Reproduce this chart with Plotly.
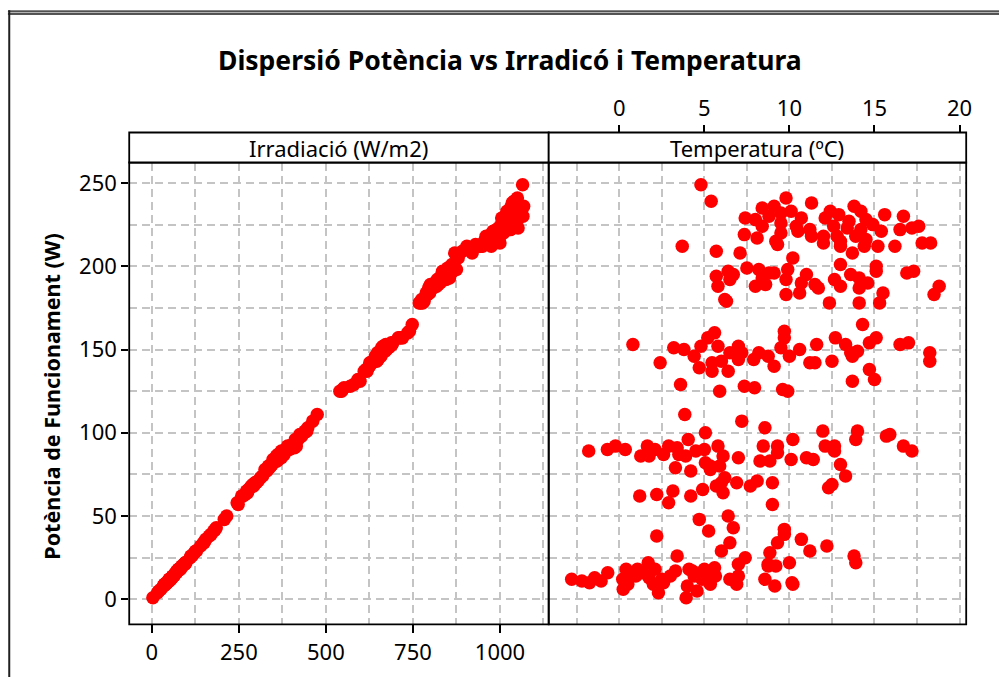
import plotly.graph_objects as go

# Observations: module temperature (ºC), output power (W), irradiance (W/m2)
temperatura = [
    4.8, 5.4, 9.8, 11.3, 8.4, 9.1, 10.1, 12.4, 13.8, 14.2, 15.6, 16.7,
    12.9, 7.4, 8.0, 8.8, 9.5, 10.7, 12.1, 13.5, 14.5, 14.9, 8.4, 9.5,
    10.4, 11.2, 12.6, 13.4, 14.2, 15.4, 16.5, 17.2, 17.6, 7.35, 8.1, 9.5,
    10.5, 11.3, 12.0, 12.0, 12.8, 13.0, 13.0, 13.9, 14.5, 14.4, 15.2, 16.2,
    17.8, 18.3, 9.3, 9.2, 3.7, 5.7, 7.1, 10.2, 13.7, 7.5, 8.2, 8.8,
    9.1, 9.9, 6.4, 6.7, 5.7, 6.5, 5.8, 8.0, 8.6, 8.4, 9.8, 9.8,
    11.0, 10.7, 10.6, 11.5, 11.7, 12.65, 13.0, 13.0, 13.6, 14.1, 14.1, 14.6,
    15.1, 15.1, 16.9, 17.3, 15.5, 15.3, 14.1, 12.35, 6.2, 6.3, 18.8, 18.5,
    14.3, 9.7, 9.7, 5.6, 5.2, 0.8, 3.2, 3.8, 4.8, 5.8, 4.4, 5.45,
    6.0, 6.5, 7.0, 7.2, 7.0, 6.4, 5.45, 4.7, 2.4, 7.9, 8.2, 8.75,
    9.1, 9.5, 10.0, 10.6, 11.6, 11.2, 11.5, 12.5, 12.7, 13.3, 13.6, 14.0,
    13.7, 14.7, 15.1, 14.7, 15.0, 13.7, 16.5, 17.0, 18.25, 18.25, 3.6, 5.9,
    7.35, 7.95, 9.6, 9.9,
    3.85, 7.2, 8.56, 11.96, 14.0, 13.9, 15.7, 15.9, 5.06, 4.05, 10.2,
    -1.8, -0.7, -0.23, 0.35, 1.65, 2.1, 2.9, 3.4, 4.5, 5.0, 5.8, 8.46,
    9.3, 9.3, 12.1, 12.65, 12.65, 16.7, 17.2, 1.26, 1.75, 2.6, 3.5, 3.9,
    6.1, 7.0, 8.27, 8.85, 10.1, 11.0, 11.4, 13.0, 5.06, 3.3, 4.2, 5.35, 5.9,
    5.35, 6.2, 6.9, 5.7, 6.1, 6.0, 7.7, 8.1, 9.0, 9.0, 13.3, 12.3, 12.5,
    1.2, 2.2, 3.15, 2.9, 4.2, 4.9,
    4.7, 6.4, 5.25, 6.7, 2.2, 6.5, 6.0, 3.4, 7.4, 7.0, 9.7, 9.7,
    9.3, 8.85, 8.75, 9.2, 10.0, 10.7, 11.2, 12.2, 13.8, 13.9,
    -2.8, -2.2, -1.75, -1.45, -1.07, -0.68, 0.4, 0.2, 0.5, 0.23, 1.07, 0.97,
    1.7, 2.1, 1.75, 2.5, 2.6, 2.3,
    3.3, 4.1, 4.3, 5.0, 5.6, 4.86, 5.35, 4.0, 4.57, 3.93, 6.5, 7.0,
    6.9, 8.56, 9.14, 8.75, 10.15, 10.2, 5.65,
    0.6, 1.4, 2.0, 3.0, 4.4, 5.2,
]

potencia = [
    249, 239, 241, 238, 235, 236, 233, 233, 236, 233, 231, 230,
    231, 229, 228, 230, 232, 229, 229, 227, 228, 225, 224, 226,
    224, 222, 224, 223, 222, 221, 222, 223, 224, 219, 217, 220,
    221, 218, 218, 214, 218, 215, 212, 218, 216, 212, 212, 212,
    214, 214, 213, 215, 212, 209, 208, 205, 208, 199, 198, 196,
    196, 198, 197, 195, 194, 192, 188, 188, 189, 193, 192, 183,
    195, 190, 184, 189, 187, 192, 201, 188, 195, 193, 187, 190,
    200, 197, 196, 197, 184, 178, 178, 178, 180, 179, 188, 183,
    165, 161, 157, 160, 157, 153, 151, 150, 152, 152, 146, 142,
    143, 148, 152, 148, 144, 137, 137, 139, 142, 144, 148, 146,
    140, 151, 146, 150, 153, 142, 142, 143, 157, 153, 148, 149,
    146, 154, 157, 138, 132, 131, 153, 154, 148, 143, 129, 125,
    128, 127, 126, 125,
    111, 107, 103, 101, 101, 96, 98, 99, 100, 96, 96,
    89, 90, 92, 90, 92, 90, 92, 91, 89, 90, 92, 92,
    92, 88, 92, 92, 89, 92, 89, 86, 86, 87, 87, 86,
    86, 85, 83, 83, 84, 85, 84, 81, 82, 79, 77, 80, 80,
    78, 73, 70, 68, 64, 70, 68, 71, 70, 57, 74, 67, 69,
    62, 63, 65, 58, 62, 66,
    48, 50, 41, 43, 38, 34, 29, 26, 25, 21, 42, 39,
    34, 28, 21, 20, 22, 36, 29, 32, 26, 22,
    12, 11, 10, 13, 11, 16, 18, 12, 9, 6, 18, 14,
    22, 18, 13, 12, 10, 4,
    17, 18, 17, 18, 19, 12, 9, 8, 5, 1, 12, 14,
    9, 12, 8, 20, 10, 9, 14,
    15, 16, 9, 14, 14, 16,
]

irradiacio = [
    1065, 1040, 1050, 1035, 1030, 1058, 1020, 1062, 1068, 1025, 1055, 1015,
    1040, 1010, 1035, 1066, 1060, 1005, 1030, 1022, 1050, 1012, 1000, 1038,
    1020, 990, 1045, 1008, 1030, 985, 1015, 1052, 1028, 975, 995, 1010,
    980, 960, 1000, 970, 985, 955, 945, 965, 990, 940, 975, 950,
    960, 1000, 930, 962, 905, 892, 920, 880, 870, 850, 865, 842,
    858, 875, 835, 848, 830, 820, 805, 815, 800, 838, 826, 790,
    852, 812, 798, 822, 808, 845, 862, 818, 835, 855, 795, 828,
    868, 846, 860, 840, 788, 772, 778, 768, 775, 782, 810, 792,
    748, 740, 720, 735, 712, 672, 660, 668, 676, 664, 645, 630,
    638, 655, 685, 662, 640, 610, 618, 622, 628, 650, 648, 658,
    625, 680, 642, 674, 690, 634, 626, 636, 708, 684, 652, 670,
    644, 692, 716, 615, 592, 598, 682, 688, 660, 646, 580, 545,
    570, 552, 548, 540,
    475, 462, 448, 440, 445, 418, 430, 425, 438, 412, 420,
    380, 392, 400, 386, 405, 395, 398, 410, 372, 385, 415, 402,
    390, 378, 408, 396, 382, 412, 376, 368, 374, 362, 380, 370,
    358, 365, 352, 360, 355, 372, 348, 345, 350, 338, 330, 342, 335,
    325, 312, 300, 292, 275, 296, 286, 305, 298, 248, 318, 282, 290,
    262, 268, 272, 245, 258, 278,
    208, 215, 178, 185, 165, 148, 128, 115, 110, 92, 182, 170,
    150, 122, 95, 88, 98, 155, 126, 140, 112, 96,
    52, 48, 44, 58, 50, 70, 78, 54, 40, 26, 80, 62,
    96, 76, 56, 50, 42, 16,
    74, 82, 72, 78, 84, 52, 38, 34, 20, 3, 55, 60,
    36, 50, 33, 86, 44, 37, 62,
    66, 68, 39, 61, 63, 71,
]

assert len(temperatura) == len(potencia) == len(irradiacio)

titol = "Dispersió Potència vs Irradicó i Temperatura"
etiqueta_y = "Potència de Funcionament (W)"
panells = ["Irradiació (W/m2)", "Temperatura (ºC)"]

W, H = 1005, 677
FONT = "Noto Sans"
RED = "#ff0000"
GRID = "#c4c4c4"
DASH = "8px,5px"


def px(x):
    return x / W


def py(y):
    return 1 - y / H


# panel geometry (pixels)
left_x0, mid_x, right_x1 = 130, 552, 972
plot_top, plot_bot = 162.5, 624.3
strip_top = 132.5

fig = go.Figure()
fig.add_trace(go.Scatter(
    x=irradiacio, y=potencia, mode="markers", xaxis="x", yaxis="y",
    marker=dict(color=RED, size=13.5, line=dict(width=0)), showlegend=False,
))
fig.add_trace(go.Scatter(
    x=temperatura, y=potencia, mode="markers", xaxis="x2", yaxis="y2",
    marker=dict(color=RED, size=13.5, line=dict(width=0)), showlegend=False,
))

tickfont = dict(family=FONT, size=22, color="black")
grid_common = dict(showgrid=True, gridcolor=GRID, gridwidth=1.5, griddash=DASH,
                   zeroline=False, showline=False)

fig.update_layout(
    width=W, height=H,
    margin=dict(l=0, r=0, t=0, b=0),
    paper_bgcolor="white", plot_bgcolor="white",
    xaxis=dict(
        domain=[px(left_x0), px(mid_x)], range=[-65, 1140], anchor="y",
        tick0=0, dtick=250, ticks="outside", ticklen=8, tickwidth=1.5,
        tickcolor="black", tickfont=tickfont,
        minor=dict(tick0=0, dtick=125, showgrid=True, gridcolor=GRID,
                   gridwidth=1.5, griddash=DASH),
        **grid_common,
    ),
    yaxis=dict(
        domain=[py(plot_bot), py(plot_top)], range=[-15, 262.3], anchor="x",
        tick0=0, dtick=50, ticks="outside", ticklen=7, tickwidth=1.5,
        tickcolor="black", tickfont=tickfont,
        minor=dict(tick0=0, dtick=25, showgrid=True, gridcolor=GRID,
                   gridwidth=1.5, griddash=DASH),
        **grid_common,
    ),
    xaxis2=dict(
        domain=[px(mid_x), px(right_x1)], range=[-4.15, 20.39],
        anchor="free", position=py(strip_top), side="top",
        tick0=0, dtick=5, ticks="outside", ticklen=8, tickwidth=1.5,
        tickcolor="black", tickfont=tickfont,
        minor=dict(tick0=0, dtick=2.5, showgrid=True, gridcolor=GRID,
                   gridwidth=1.5, griddash=DASH),
        **grid_common,
    ),
    yaxis2=dict(
        domain=[py(plot_bot), py(plot_top)], range=[-15, 262.3], anchor="x2",
        tick0=0, dtick=50, showticklabels=False, ticks="",
        minor=dict(tick0=0, dtick=25, showgrid=True, gridcolor=GRID,
                   gridwidth=1.5, griddash=DASH),
        **grid_common,
    ),
)

shapes = []
# panel frames and strip boxes
for x0, x1 in [(left_x0, mid_x), (mid_x, right_x1)]:
    shapes.append(dict(type="rect", xref="paper", yref="paper",
                       x0=px(x0), x1=px(x1), y0=py(plot_bot), y1=py(plot_top),
                       line=dict(color="black", width=1.8), layer="above"))
    shapes.append(dict(type="rect", xref="paper", yref="paper",
                       x0=px(x0), x1=px(x1), y0=py(plot_top), y1=py(strip_top),
                       line=dict(color="black", width=1.8), fillcolor="white",
                       layer="above"))
# outer graph border (top double rule and left edge)
shapes.append(dict(type="line", xref="paper", yref="paper",
                   x0=px(8), x1=1, y0=py(12.6), y1=py(12.6),
                   line=dict(color="#b4b4b4", width=4.4)))
for yy in (11.1, 14.0):
    shapes.append(dict(type="line", xref="paper", yref="paper",
                       x0=px(8), x1=1, y0=py(yy), y1=py(yy),
                       line=dict(color="#303030", width=1.4)))
shapes.append(dict(type="line", xref="paper", yref="paper",
                   x0=px(9.3), x1=px(9.3), y0=py(10.3), y1=0,
                   line=dict(color="#202020", width=2)))
fig.update_layout(shapes=shapes)

annotations = [
    dict(text=f"<b>{titol}</b>", x=px(513), y=py(60), xref="paper", yref="paper",
         showarrow=False, xanchor="center", yanchor="middle",
         font=dict(family=FONT, size=26.5, color="black")),
    dict(text=f"<b>{etiqueta_y}</b>", x=px(52), y=py(396), xref="paper",
         yref="paper", showarrow=False, textangle=-90, xanchor="center",
         yanchor="middle", font=dict(family=FONT, size=21.5, color="black")),
]
for (x0, x1), label in zip([(left_x0, mid_x), (mid_x, right_x1)], panells):
    annotations.append(dict(
        text=label, x=px((x0 + x1) / 2), y=py((plot_top + strip_top) / 2),
        xref="paper", yref="paper", showarrow=False, xanchor="center",
        yanchor="middle", font=dict(family=FONT, size=22, color="black")))
fig.update_layout(annotations=annotations)

fig.write_html("out.html")
